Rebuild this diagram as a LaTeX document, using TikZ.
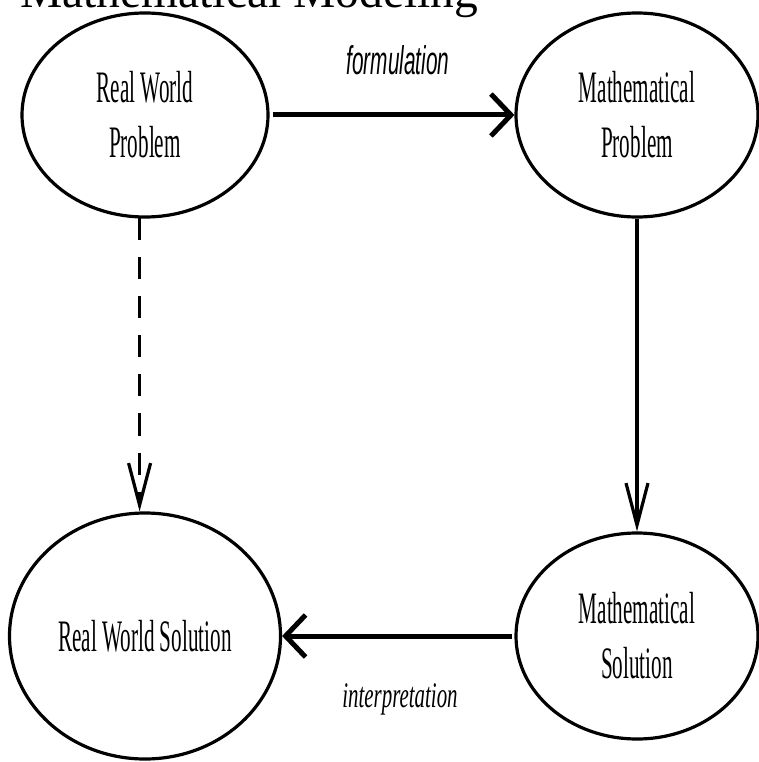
\documentclass[tikz,border=0pt]{standalone}
\usepackage{fontspec}
\setmainfont{Liberation Serif}
\usetikzlibrary{shapes.geometric,arrows.meta}
\newfontfamily\lblfont[FakeStretch=0.47]{Liberation Serif}
\newfontfamily\formfont[FakeStretch=0.52]{Liberation Sans}
\newfontfamily\interfont[FakeStretch=0.58]{Liberation Serif}
\begin{document}
\begin{tikzpicture}[x=1pt,y=-1pt,
  oval/.style={ellipse, draw, line width=3.2pt, inner sep=0pt, align=center,
    font=\lblfont\fontsize{45}{55}\selectfont},
  bigarrow/.style={line width=5pt, -{Straight Barb[length=20pt,width=42pt]}},
  slimarrow/.style={line width=3.2pt, -{Straight Barb[length=42pt,width=22pt]}},
  lbl/.style={anchor=base, inner sep=0pt}
]
\fill[white] (0,0) rectangle (759,762);
\useasboundingbox (0,0) rectangle (759,762);
\clip (0,0) rectangle (759,762);
\node[anchor=base west, inner sep=0pt, font=\fontsize{47.5}{50}\selectfont] (title) at (20,8) {Mathematical Modeling};
\node[oval, minimum width=246pt, minimum height=204pt] (rwp) at (145,115) {Real World\\Problem};
\node[oval, minimum width=242pt, minimum height=204pt] (mp) at (637,115) {Mathematical\\Problem};
\node[oval, minimum width=271pt, minimum height=246pt] (rws) at (145,636) {Real World Solution};
\node[oval, minimum width=242pt, minimum height=206pt] (ms) at (637,636) {Mathematical\\Solution};
\node[lbl, font=\formfont\itshape\fontsize{40}{44}\selectfont] (flab) at (398,75) {formulation};
\node[lbl, font=\interfont\itshape\fontsize{36}{40}\selectfont] (ilab) at (400,707) {interpretation};
\draw[bigarrow, shorten <=3pt] (rwp.east) -- (mp.west);
\draw[slimarrow] (mp.south) -- (ms.north);
\draw[slimarrow, dash pattern=on 22pt off 17pt] (rwp.267) -- (rwp.267 |- rws.north);
\draw[bigarrow, shorten <=2pt] (ms.west) -- (rws.east);
\end{tikzpicture}
\end{document}
